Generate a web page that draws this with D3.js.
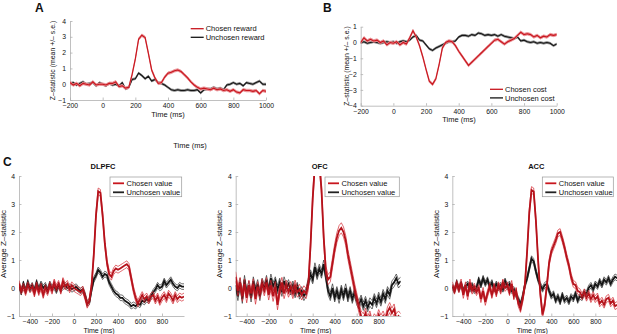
<!DOCTYPE html>
<html><head><meta charset="utf-8">
<script src="https://cdn.jsdelivr.net/npm/d3@7"></script>
<style>
body{margin:0;background:#fff;}
svg text{font-family:"Liberation Sans",Arial,Helvetica,sans-serif;fill:#111;}
</style></head><body>
<svg id="c" width="617" height="334"></svg>
<script>
// ---------- DATA ----------
const timeAB = d3.range(-200, 1001, 20);
const timeC = d3.range(-500, 1001, 20);

const chosenReward = [0.10,-0.05,0.05,-0.10,0.05,0.00,-0.05,0.15,-0.05,0.00,0.00,-0.05,0.05,0.05,0.15,-0.15,-0.10,-0.25,-0.20,0.60,1.60,2.85,3.10,2.95,1.95,0.90,0.40,0.05,0.10,0.45,0.70,0.75,0.85,0.90,0.80,0.60,0.40,0.15,-0.05,-0.20,-0.30,-0.25,-0.30,-0.35,-0.25,-0.35,-0.30,-0.40,-0.35,-0.45,-0.35,-0.50,-0.55,-0.35,-0.40,-0.40,-0.45,-0.40,-0.60,-0.40,-0.45];
const unchosenReward = [0.05,0.10,-0.05,0.05,0.15,0.00,0.05,0.10,-0.10,0.10,0.00,-0.10,0.05,-0.05,0.00,-0.10,0.10,-0.30,-0.20,0.30,0.35,0.70,0.55,0.35,0.50,0.20,0.30,0.10,0.05,-0.05,-0.20,-0.35,-0.40,-0.35,-0.40,-0.40,-0.35,-0.40,-0.40,-0.35,-0.55,-0.35,-0.30,-0.30,-0.20,-0.30,-0.25,-0.35,-0.05,0.00,0.10,0.00,0.05,-0.10,0.10,0.05,0.00,0.10,0.20,0.00,0.00];
const chosenCost = [0.00,0.30,0.10,0.20,0.10,0.15,0.00,0.10,-0.15,0.00,-0.05,0.05,-0.15,0.00,-0.10,0.30,0.75,0.35,-0.20,-0.90,-1.70,-2.45,-2.65,-2.30,-1.40,-0.35,0.00,0.10,0.05,-0.20,-0.55,-0.85,-1.15,-1.45,-1.25,-1.05,-0.85,-0.65,-0.45,-0.25,-0.05,0.15,0.20,0.05,-0.10,0.05,0.15,0.25,0.45,0.65,0.50,0.55,0.50,0.35,0.45,0.30,0.40,0.35,0.50,0.45,0.50];
const unchosenCost = [0.00,0.05,-0.05,0.00,0.05,0.00,-0.05,0.00,0.05,0.00,0.05,-0.05,0.05,0.10,0.05,0.15,0.35,0.45,0.15,0.10,-0.15,-0.40,-0.50,-0.35,-0.25,-0.15,-0.05,0.05,0.05,0.10,0.35,0.45,0.45,0.40,0.50,0.45,0.60,0.55,0.45,0.50,0.45,0.50,0.40,0.50,0.40,0.35,0.30,0.25,0.35,0.10,0.15,0.05,0.00,0.05,-0.05,0.00,-0.05,0.00,-0.05,-0.20,-0.10];
const seRewardChosen = 0.08, seRewardUnchosen = 0.06, seCostChosen = 0.08, seCostUnchosen = 0.06;

const dlpfcChosen = [0.15,-0.10,0.05,-0.15,0.10,-0.05,0.05,-0.20,0.10,-0.15,0.05,-0.25,0.00,-0.15,0.10,-0.10,0.20,0.00,0.15,-0.10,0.25,0.05,0.15,-0.05,0.10,0.00,-0.05,-0.10,-0.15,-0.05,-0.30,-0.60,-0.45,0.10,1.20,2.60,3.45,3.40,2.60,1.60,0.90,0.50,0.40,0.60,0.70,0.65,0.70,0.75,0.80,0.85,0.75,0.35,-0.05,-0.35,-0.55,-0.40,-0.25,-0.40,-0.30,-0.45,-0.30,-0.25,-0.45,-0.30,-0.50,-0.35,-0.25,-0.40,-0.20,-0.30,-0.45,-0.25,-0.40,-0.30,-0.35,-0.30];
const dlpfcUnchosen = [0.10,-0.15,0.15,-0.10,0.20,-0.05,0.10,-0.10,0.20,-0.05,0.15,0.00,0.10,-0.10,0.15,0.00,0.05,-0.10,0.10,-0.05,0.05,0.10,0.00,0.05,-0.05,0.00,0.05,-0.05,-0.10,-0.05,-0.25,-0.55,-0.50,-0.05,0.30,0.45,0.65,0.55,0.40,0.50,0.45,0.20,0.05,-0.10,-0.20,-0.25,-0.35,-0.35,-0.45,-0.50,-0.55,-0.65,-0.60,-0.65,-0.55,-0.60,-0.45,-0.50,-0.40,-0.45,-0.30,-0.15,-0.05,0.10,0.00,0.05,0.25,0.10,0.20,0.30,0.15,0.05,0.00,0.10,0.05,0.05];
const ofcChosen = [0.40,-0.10,0.20,-0.30,0.15,-0.35,0.10,-0.20,0.15,-0.40,0.05,-0.20,0.15,-0.10,0.20,-0.25,0.10,-0.30,0.05,-0.60,-0.10,0.20,-0.20,0.10,-0.15,0.05,-0.20,0.10,-0.15,-0.05,-0.25,-0.10,-0.20,0.10,1.50,3.20,4.40,4.80,4.50,3.50,1.80,0.60,0.30,0.40,0.90,1.40,1.80,2.05,2.15,2.00,1.70,1.20,0.80,0.40,0.00,-0.35,-0.70,-1.00,-1.10,-0.90,-1.20,-1.00,-1.30,-1.10,-1.20,-0.95,-1.15,-1.00,-1.20,-0.85,-0.70,-0.90,-0.75,-1.10,-1.00,-1.10];
const ofcUnchosen = [0.10,-0.30,0.20,-0.40,0.30,-0.20,0.10,-0.35,0.25,-0.10,0.15,-0.30,0.20,0.00,0.30,-0.10,0.35,0.05,0.25,-0.05,0.20,-0.15,0.25,0.00,0.15,-0.10,0.10,-0.20,0.05,-0.25,-0.10,-0.30,-0.15,0.20,0.50,0.30,0.75,0.45,0.70,0.50,0.85,0.40,-0.10,-0.30,0.00,-0.35,-0.10,-0.40,-0.05,-0.30,0.00,-0.35,-0.10,-0.40,-0.15,-0.45,-0.60,-0.40,-0.65,-0.45,-0.70,-0.50,-0.60,-0.35,-0.55,-0.30,-0.50,-0.20,-0.40,-0.10,-0.25,0.10,0.20,0.35,0.15,0.25];
const accChosen = [0.10,-0.10,0.15,-0.05,0.20,-0.25,0.10,-0.30,0.20,-0.10,0.05,-0.15,0.00,-0.40,-0.10,-0.50,-0.20,0.05,-0.25,0.05,-0.20,0.10,-0.10,0.20,0.00,0.10,-0.15,0.15,-0.30,-0.10,-0.55,-0.75,-0.40,0.10,1.30,2.70,3.50,3.45,2.40,1.00,-0.20,-0.95,-0.60,0.10,0.90,1.30,1.50,1.70,1.95,2.00,1.75,1.45,1.10,0.80,0.40,0.15,0.10,-0.10,-0.15,-0.30,-0.15,-0.35,-0.20,-0.40,-0.25,-0.40,-0.30,-0.55,-0.45,-0.60,-0.40,-0.35,-0.55,-0.45,-0.65,-0.60];
const accUnchosen = [0.05,-0.10,0.20,-0.05,0.15,-0.10,0.05,0.15,-0.05,0.10,-0.10,0.00,0.30,0.10,0.35,0.15,0.30,0.05,0.20,-0.05,0.15,0.00,0.10,-0.05,0.25,0.05,0.15,-0.10,-0.05,-0.25,-0.40,-0.60,-0.30,0.10,0.35,0.70,1.05,0.95,0.60,0.30,0.10,-0.05,0.10,0.15,-0.10,-0.30,-0.20,-0.45,-0.30,-0.50,-0.25,-0.45,-0.35,-0.50,-0.30,-0.40,-0.20,-0.45,-0.30,-0.35,-0.15,-0.20,0.00,0.10,-0.05,0.15,0.05,0.25,0.10,0.30,0.20,0.35,0.15,0.30,0.40,0.35];
const seC = {dlpfc:[0.12,0.10], ofc:[0.18,0.15], acc:[0.12,0.10]};

const ticksAB = [-200,0,200,400,600,800,1000];
const yTicksA = [-1,0,1,2,3,4];
const yTicksB = [-4,-3,-2,-1,0,1];
const ticksC = [-400,-200,0,200,400,600,800];
const yTicksC = [-1,0,1,2,3,4];

// ---------- DRAW ----------
const svg = d3.select("#c");
const RED = "#c8161e", RED_LIGHT = "#e98a8f", BLACK = "#151515", GREY = "#8a8a8a";
let clipId = 0;

function panel(o) {
  const x = d3.scaleLinear().domain(o.xd).range(o.xr);
  const y = d3.scaleLinear().domain(o.yd).range(o.yr);
  const g = svg.append("g");
  const id = "clip" + (clipId++);
  g.append("clipPath").attr("id", id).append("rect")
    .attr("x", o.xr[0]).attr("y", o.yr[1]).attr("width", o.xr[1]-o.xr[0]).attr("height", o.yr[0]-o.yr[1]);
  const ax = g.append("g").attr("transform", `translate(0,${o.yr[0]})`)
    .call(d3.axisBottom(x).tickValues(o.xt).tickSize(-2.5).tickSizeOuter(0).tickPadding(o.pad).tickFormat(d3.format("d")));
  const ay = g.append("g").attr("transform", `translate(${o.xr[0]},0)`)
    .call(d3.axisLeft(y).tickValues(o.yt).tickSize(-2.5).tickSizeOuter(0).tickPadding(4).tickFormat(d3.format("d")));
  [ax, ay].forEach(a => {
    a.select(".domain").attr("stroke", "#b0b0b0").attr("stroke-width", 0.8);
    a.selectAll(".tick line").attr("stroke", "#b0b0b0").attr("stroke-width", 0.8);
    a.selectAll(".tick text").attr("font-size", o.fs).attr("fill", "#222")
      .attr("font-family", '"Liberation Sans",Arial,sans-serif');
  });
  const plot = g.append("g").attr("clip-path", `url(#${id})`);
  o.series.forEach(s => {
    const pts = o.t.map((t, i) => ({t, v: s.v[i]}));
    const line = d3.line().x(d => x(d.t)).y(d => y(d.v));
    if (o.band) {
      plot.append("path").datum(pts)
        .attr("d", d3.area().x(d => x(d.t)).y0(d => y(d.v - s.se)).y1(d => y(d.v + s.se)))
        .attr("fill", s.light).attr("stroke", s.light).attr("stroke-width", 0.8);
      plot.append("path").datum(pts).attr("d", line).attr("fill", "none")
        .attr("stroke", s.color).attr("stroke-width", 1.1);
    } else {
      [-1, 1].forEach(k => {
        plot.append("path").datum(pts)
          .attr("d", d3.line().x(d => x(d.t)).y(d => y(d.v + k*s.se)))
          .attr("fill", "none").attr("stroke", s.color).attr("stroke-width", 0.7);
      });
      plot.append("path").datum(pts).attr("d", line).attr("fill", "none")
        .attr("stroke", s.dark).attr("stroke-width", 1.8);
    }
  });
  return {x, y, g};
}

function txt(x, y, s, size, opts = {}) {
  const t = svg.append("text").attr("x", x).attr("y", y).attr("font-size", size).text(s);
  if (opts.anchor) t.attr("text-anchor", opts.anchor);
  if (opts.bold) t.attr("font-weight", "bold");
  if (opts.rot) t.attr("transform", `rotate(-90,${x},${y})`);
  return t;
}

// Panel A
panel({xd:[-200,1000], xr:[70,266], yd:[-1,4], yr:[100,21], xt:ticksAB, yt:yTicksA, fs:6.8, pad:3.5, t:timeAB, band:true,
  series:[{v:unchosenReward, se:seRewardUnchosen, color:BLACK, light:GREY},
          {v:chosenReward, se:seRewardChosen, color:RED, light:RED_LIGHT}]});
// Panel B
panel({xd:[-200,1000], xr:[360.7,556.7], yd:[-4,1], yr:[105.7,26.7], xt:ticksAB, yt:yTicksB, fs:6.8, pad:3.5, t:timeAB, band:true,
  series:[{v:unchosenCost, se:seCostUnchosen, color:BLACK, light:GREY},
          {v:chosenCost, se:seCostChosen, color:RED, light:RED_LIGHT}]});

txt(35, 12, "A", 12, {bold:true});
txt(323, 12, "B", 12, {bold:true});
txt(3, 166, "C", 12, {bold:true});

txt(55, 60.5, "Z–statistic (mean +/– s.e.)", 6.9, {anchor:"middle", rot:true});
txt(348.5, 66, "Z–statistic (mean +/– s.e.)", 6.9, {anchor:"middle", rot:true});
txt(168, 117, "Time (ms)", 7.5, {anchor:"middle"});
txt(459, 122, "Time (ms)", 7.5, {anchor:"middle"});
txt(190, 148, "Time (ms)", 7.5, {anchor:"middle"});

function legAB(x0, y0, labels) {
  labels.forEach((l, i) => {
    const yy = y0 + i*8.6;
    svg.append("line").attr("x1", x0).attr("x2", x0+13).attr("y1", yy).attr("y2", yy)
      .attr("stroke", l.c).attr("stroke-width", 1.3);
    txt(x0+15, yy+2.6, l.s, 7.5);
  });
}
legAB(190.7, 28.7, [{s:"Chosen reward", c:RED}, {s:"Unchosen reward", c:BLACK}]);
legAB(490, 89.3, [{s:"Chosen cost", c:RED}, {s:"Unchosen cost", c:BLACK}]);

// Panel C
const cPanels = [
  {name:"DLPFC", x0:19, ch:dlpfcChosen, un:dlpfcUnchosen, se:seC.dlpfc, leg:[110,181.7], ylab:6},
  {name:"OFC", x0:235.7, ch:ofcChosen, un:ofcUnchosen, se:seC.ofc, leg:[325,399.3], ylab:222},
  {name:"ACC", x0:452.3, ch:accChosen, un:accUnchosen, se:seC.acc, leg:[542.3,613.3], ylab:438.5}
];
cPanels.forEach(p => {
  panel({xd:[-500,1000], xr:[p.x0, p.x0+165], yd:[-1,4], yr:[316,176], xt:ticksC, yt:yTicksC, fs:6.8, pad:3.0, t:timeC, band:false,
    series:[{v:p.un, se:p.se[1], color:"#333", dark:BLACK},
            {v:p.ch, se:p.se[0], color:"#d42a32", dark:"#b5121b"}]});
  txt(p.x0 + 84, 168.5, p.name, 7.5, {anchor:"middle", bold:true});
  txt(p.x0 + 80, 333.2, "Time (ms)", 7.0, {anchor:"middle"});
  txt(p.ylab, 244, "Average Z–statistic", 8, {anchor:"middle", rot:true});
  const [l, r] = p.leg;
  svg.append("rect").attr("x", l).attr("y", 177).attr("width", r-l).attr("height", 19.7)
    .attr("fill", "#fff").attr("stroke", "#999").attr("stroke-width", 0.7);
  [{s:"Chosen value", c:"#c8161e"}, {s:"Unchosen value", c:"#222"}].forEach((e, i) => {
    const yy = 183.3 + i*9;
    svg.append("line").attr("x1", l+3).attr("x2", l+14).attr("y1", yy).attr("y2", yy)
      .attr("stroke", e.c).attr("stroke-width", 1.8);
    txt(l+16.5, yy+2.7, e.s, 7.5);
  });
});
</script>
</body></html>
